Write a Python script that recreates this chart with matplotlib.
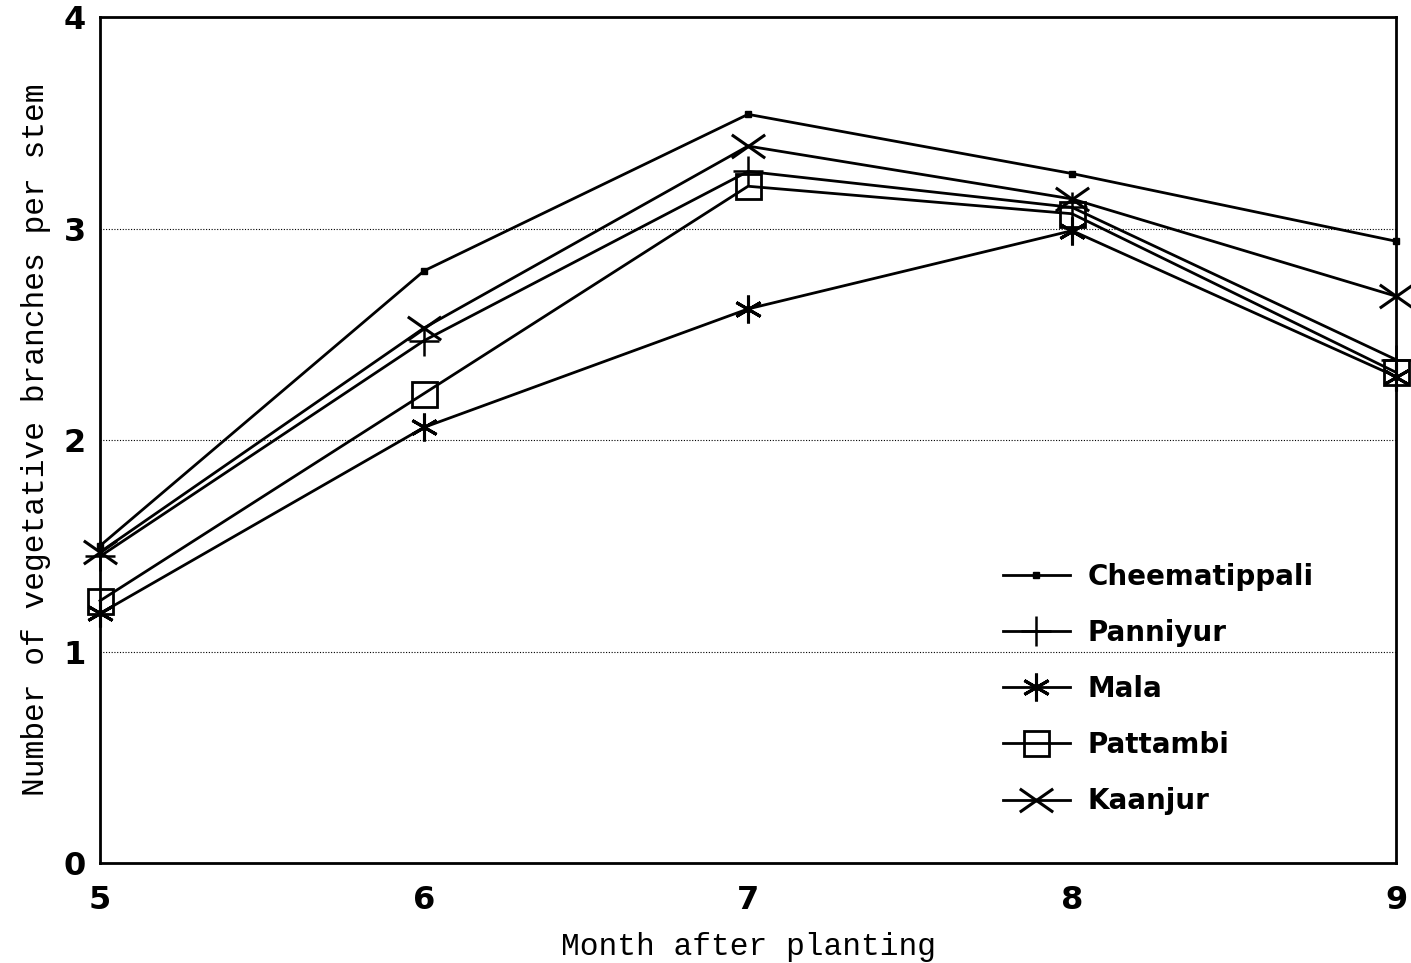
import matplotlib
matplotlib.use("Agg")
import matplotlib.pyplot as plt
from matplotlib.path import Path

months = [5, 6, 7, 8, 9]
cheematippali = [1.50, 2.80, 3.54, 3.26, 2.94]
panniyur = [1.45, 2.47, 3.27, 3.10, 2.38]
mala = [1.18, 2.06, 2.62, 2.99, 2.30]
pattambi = [1.24, 2.22, 3.20, 3.07, 2.32]
kaanjur = [1.47, 2.53, 3.39, 3.14, 2.68]
series_names = ["Cheematippali", "Panniyur", "Mala", "Pattambi", "Kaanjur"]
yticks = [0, 1, 2, 3, 4]

wide_x = Path([(-1, -0.7), (1, 0.7), (-1, 0.7), (1, -0.7)],
              [Path.MOVETO, Path.LINETO, Path.MOVETO, Path.LINETO])

fig = plt.figure(figsize=(14.11, 9.63), dpi=100)
ax = fig.add_axes([0.0709, 0.1038, 0.9185, 0.8785])

styles = [
    dict(marker='s', markersize=5, markerfacecolor='black'),
    dict(marker='+', markersize=22, markeredgewidth=1.8),
    dict(marker=(6, 2, 0), markersize=20, markeredgewidth=2.2),
    dict(marker='s', markersize=18, markerfacecolor='none', markeredgewidth=2),
    dict(marker=wide_x, markersize=24, markeredgewidth=2.2),
]
data = [cheematippali, panniyur, mala, pattambi, kaanjur]
for name, vals, st in zip(series_names, data, styles):
    ax.plot(months, vals, color='black', linewidth=2, label=name,
            markeredgecolor='black', clip_on=False, **st)

ax.set_xlim(5, 9)
ax.set_ylim(0, 4)
ax.set_xticks(months)
ax.set_yticks(yticks)
for y in [1, 2, 3]:
    ax.axhline(y, color='black', linewidth=0.8, linestyle=(0, (1, 1.5)), zorder=0)
ax.tick_params(axis='x', length=0, pad=16)
ax.tick_params(axis='y', length=0, pad=10)
for lab in ax.get_xticklabels() + ax.get_yticklabels():
    lab.set_fontfamily('DejaVu Sans')
    lab.set_fontweight('bold')
    lab.set_fontsize(23)
for sp in ax.spines.values():
    sp.set_linewidth(2)

ax.set_xlabel("Month after planting", fontfamily='Liberation Mono', fontsize=22.5)
ax.set_ylabel("Number of vegetative branches per stem", fontfamily='Liberation Mono', fontsize=22.5)
ax.xaxis.set_label_coords(0.5, -0.082)
ax.yaxis.set_label_coords(-0.038, 0.5)

leg = ax.legend(loc='upper left', bbox_to_anchor=(1003 / 1411, (963 - 563) / 963),
                bbox_transform=fig.transFigure, frameon=False,
                prop={'family': 'DejaVu Sans', 'weight': 'bold', 'size': 20},
                handlelength=2.41, labelspacing=1.01, handletextpad=0.65,
                borderpad=0, borderaxespad=0)

fig.savefig("out.png", dpi=100)
